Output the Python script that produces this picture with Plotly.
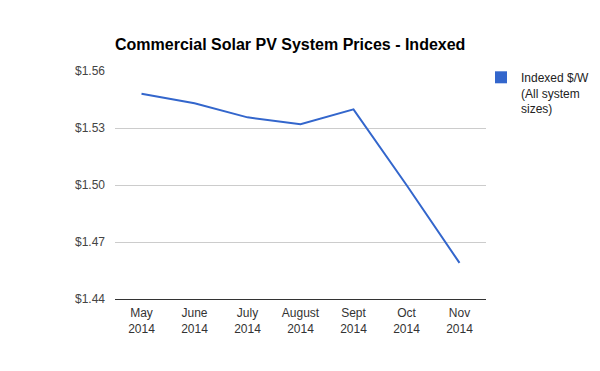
import plotly.graph_objects as go

months = ["May<br>2014", "June<br>2014", "July<br>2014", "August<br>2014", "Sept<br>2014", "Oct<br>2014", "Nov<br>2014"]
prices = [1.548, 1.543, 1.5356, 1.532, 1.5398, 1.500, 1.459]
y_ticks = [1.44, 1.47, 1.50, 1.53, 1.56]
y_tick_labels = ["$1.44", "$1.47", "$1.50", "$1.53", "$1.56"]
series_name = "Indexed $/W<br>(All system<br>sizes)"
title = "Commercial Solar PV System Prices - Indexed"
color = "#3366cc"

W, H = 592, 363  # page body has an 8px offset

fig = go.Figure()
fig.add_trace(go.Scatter(x=months, y=prices, mode="lines", name=series_name,
                         line=dict(color=color, width=2), showlegend=False))
fig.add_trace(go.Scatter(x=[None], y=[None], mode="markers", name=series_name,
                         marker=dict(symbol="square", size=12, color=color), showlegend=True))

fig.update_layout(
    width=W, height=H,
    paper_bgcolor="white", plot_bgcolor="white",
    margin=dict(l=107, r=W - 478, t=63, b=H - 291, autoexpand=False),
    font=dict(family="Liberation Sans, Arial, sans-serif", size=12, color="#222"),
    title=dict(text="<b>" + title + "</b>", x=107 / W, xanchor="left", y=1 - 36 / H, yanchor="middle",
               font=dict(size=16, color="#000")),
    xaxis=dict(showgrid=False, showline=True, linecolor="#333", linewidth=1, ticks="",
               range=[-0.5, 6.5], tickfont=dict(size=12, color="#333"), fixedrange=True,
               ticklabelstandoff=3),
    yaxis=dict(range=[1.44, 1.56], tickvals=y_ticks, ticktext=y_tick_labels,
               showgrid=True, gridcolor="#cccccc", gridwidth=1, zeroline=False,
               tickfont=dict(size=12, color="#444"), ticks="", ticklen=0, showline=False,
               ticklabelstandoff=9),
    legend=dict(xref="container", yref="container", x=473 / W, y=1 - 55 / H,
                xanchor="left", yanchor="top", valign="top",
                font=dict(size=12, color="#222"), itemwidth=30, tracegroupgap=0,
                bgcolor="rgba(0,0,0,0)"),
    showlegend=True,
)
fig.write_html("out.html")
